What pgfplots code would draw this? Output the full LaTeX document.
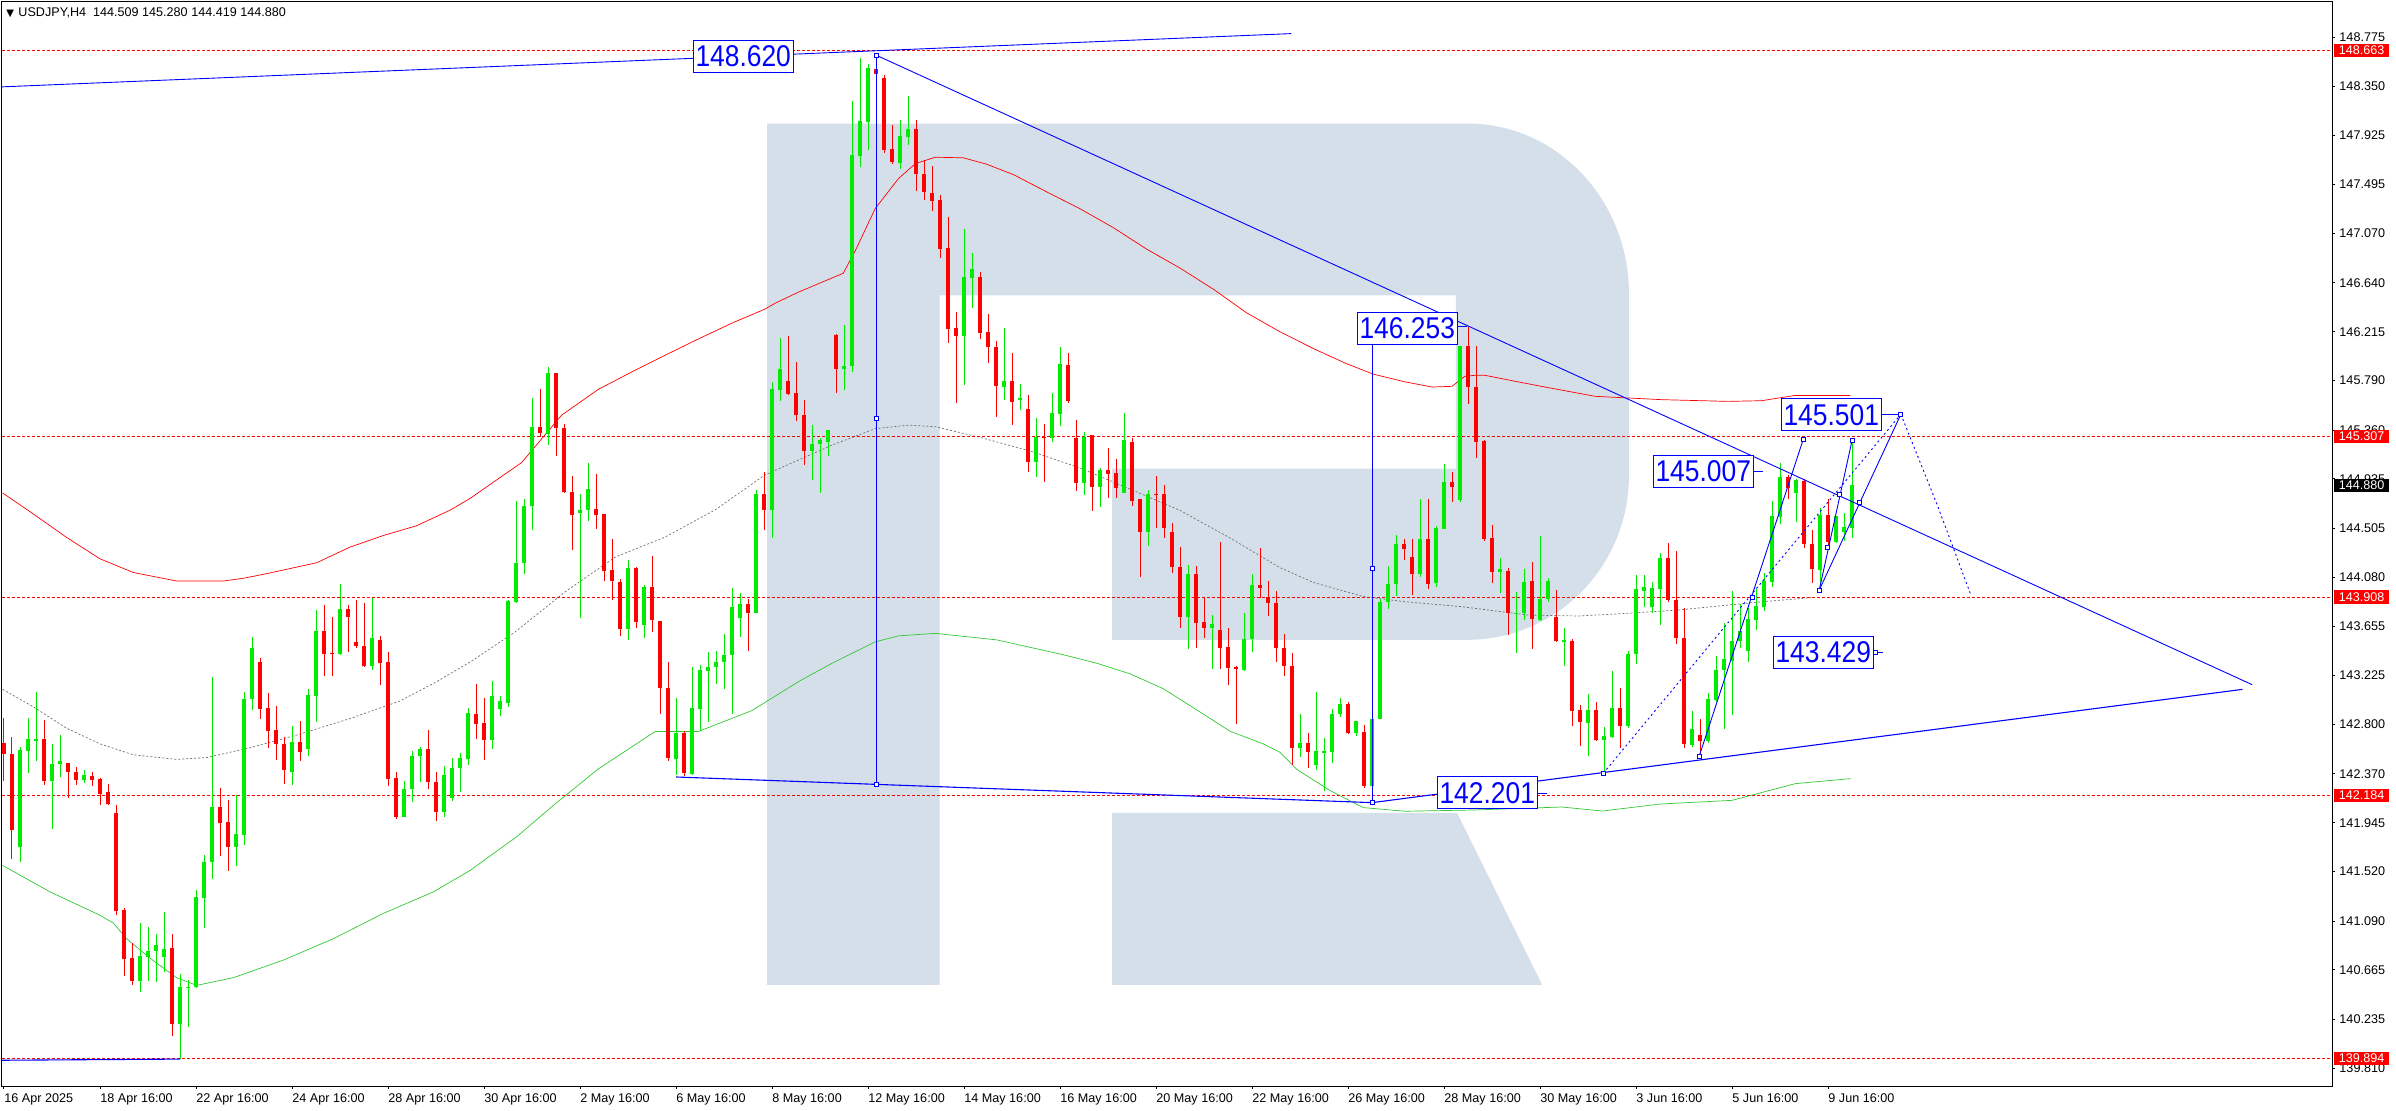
\documentclass[border=0pt]{standalone}
\usepackage{pgfplots}
\pgfplotsset{compat=1.18}
\usepackage{pgfplotstable}
\usepackage{fontspec}
\setmainfont{Liberation Sans}
\newfontfamily\dejavu{DejaVu Sans}

\definecolor{cup}{RGB}{0,235,0}
\definecolor{cdn}{RGB}{255,0,0}
\definecolor{bandlo}{RGB}{50,200,50}
\definecolor{bandmid}{RGB}{110,110,110}
\definecolor{tline}{RGB}{0,0,255}
\definecolor{wmark}{RGB}{213,223,234}

\newcommand{\tickfont}{\fontsize{6.3}{7}\selectfont}
\newcommand{\boxlabel}[1]{\scalebox{0.88}[1]{\fontsize{15}{16}\selectfont #1}}

% USDJPY H4 bars, n = bar index (0 = 16 Apr 16:00)
\pgfplotstableread{
n o h l c
0 142.638 142.858 142.309 142.540
1 142.540 142.692 141.632 141.886
2 141.733 142.604 141.608 142.580
3 142.573 142.858 142.377 142.675
4 142.665 143.082 142.479 142.670
5 142.675 142.841 142.275 142.309
6 142.309 142.631 141.892 142.458
7 142.455 142.705 142.343 142.482
8 142.465 142.465 142.163 142.390
9 142.387 142.428 142.275 142.319
10 142.319 142.401 142.292 142.360
11 142.353 142.384 142.265 142.319
12 142.326 142.333 142.102 142.197
13 142.214 142.282 142.099 142.109
14 142.031 142.099 141.140 141.181
15 141.185 141.201 140.615 140.761
16 140.768 140.903 140.531 140.571
17 140.571 141.073 140.470 140.785
18 140.781 141.039 140.565 140.829
19 140.829 140.978 140.558 140.886
20 140.775 141.168 140.649 140.846
21 140.856 140.981 140.090 140.192
22 140.192 140.626 139.887 140.514
23 140.512 140.578 140.165 140.517
24 140.517 141.361 140.507 141.300
25 141.293 141.666 141.032 141.608
26 141.608 143.214 141.452 142.082
27 142.082 142.248 141.659 141.947
28 141.953 142.143 141.523 141.730
29 141.730 142.187 141.571 141.848
30 141.842 143.078 141.750 143.024
31 143.017 143.563 142.926 143.468
32 143.346 143.380 142.851 142.936
33 142.946 143.075 142.597 142.743
34 142.753 142.960 142.495 142.634
35 142.631 142.692 142.282 142.401
36 142.390 142.787 142.272 142.648
37 142.648 142.834 142.479 142.556
38 142.584 143.105 142.523 143.058
39 143.051 143.796 142.817 143.613
40 143.613 143.840 143.217 143.410
41 143.420 143.732 143.217 143.415
42 143.410 144.023 143.400 143.806
43 143.806 143.840 143.434 143.732
44 143.518 143.878 143.461 143.478
45 143.485 143.857 143.302 143.308
46 143.308 143.898 143.275 143.552
47 143.532 143.573 143.139 143.336
48 143.339 143.434 142.265 142.326
49 142.336 142.390 141.981 141.998
50 141.998 142.306 141.998 142.238
51 142.235 142.570 142.123 142.526
52 142.523 142.607 142.296 142.587
53 142.587 142.753 142.241 142.296
54 142.299 142.390 141.964 142.035
55 142.035 142.438 141.998 142.360
56 142.163 142.509 142.136 142.421
57 142.418 142.553 142.214 142.509
58 142.502 142.946 142.445 142.902
59 142.895 143.150 142.674 142.804
60 142.812 143.033 142.492 142.665
61 142.665 143.180 142.587 143.050
62 142.934 143.050 142.869 143.007
63 142.990 143.886 142.955 143.873
64 143.865 144.740 143.856 144.203
65 144.207 144.761 144.112 144.701
66 144.696 145.640 144.493 145.389
67 145.389 145.718 145.303 145.337
68 145.329 145.909 145.229 145.857
69 145.857 145.857 145.138 145.381
70 145.381 145.411 144.809 144.818
71 144.818 144.956 144.319 144.623
72 144.636 144.800 143.722 144.666
73 144.666 145.077 144.566 144.843
74 144.675 144.978 144.501 144.623
75 144.631 144.631 144.051 144.138
76 144.142 144.415 143.886 144.047
77 144.038 144.068 143.566 143.627
78 143.627 144.233 143.531 144.159
79 144.159 144.168 143.639 143.691
80 143.661 144.016 143.549 143.995
81 143.995 144.267 143.605 143.704
82 143.700 143.700 142.890 143.120
83 143.120 143.345 142.479 142.509
84 142.500 143.029 142.358 142.726
85 142.726 142.739 142.349 142.379
86 142.371 143.302 142.362 142.942
87 142.934 143.315 142.739 143.271
88 143.267 143.432 142.817 143.302
89 143.302 143.440 143.150 143.345
90 143.345 143.583 143.107 143.401
91 143.401 143.986 142.895 143.821
92 143.722 143.943 143.562 143.847
93 143.847 143.895 143.440 143.765
94 143.765 144.835 143.765 144.805
95 144.805 144.991 144.493 144.666
96 144.666 145.779 144.419 145.714
97 145.705 146.160 145.610 145.892
98 145.783 146.177 145.662 145.675
99 145.679 145.952 145.437 145.489
100 145.489 145.619 145.060 145.177
101 145.177 145.402 144.926 145.242
102 145.238 145.294 144.809 145.272
103 145.259 145.359 145.138 145.359
104 146.182 146.195 145.684 145.892
105 145.887 146.277 145.705 145.913
106 145.913 148.217 145.866 147.750
107 147.741 148.594 147.646 148.044
108 148.040 148.542 147.797 148.507
109 148.499 148.620 148.347 148.455
110 148.421 148.447 147.771 147.793
111 147.801 148.014 147.676 147.689
112 147.680 148.053 147.633 147.914
113 147.905 148.261 147.836 147.979
114 147.979 148.053 147.438 147.589
115 147.589 147.711 147.360 147.429
116 147.425 147.654 147.264 147.351
117 147.358 147.402 146.860 146.934
118 146.941 147.211 146.118 146.236
119 146.244 146.384 145.594 146.177
120 146.177 147.104 145.753 146.687
121 146.683 146.897 146.425 146.757
122 146.687 146.735 146.152 146.203
123 146.211 146.366 145.945 146.082
124 146.085 146.137 145.473 145.742
125 145.735 146.244 145.620 145.786
126 145.786 146.034 145.403 145.602
127 145.617 145.757 145.532 145.642
128 145.546 145.668 144.993 145.082
129 145.082 145.462 144.952 145.303
130 145.303 145.410 144.908 145.292
131 145.292 145.683 145.255 145.506
132 145.498 146.085 145.395 145.930
133 145.923 146.026 145.598 145.609
134 145.288 145.443 144.834 144.897
135 144.897 145.340 144.794 145.303
136 145.314 145.314 144.653 144.867
137 144.867 145.034 144.690 145.011
138 145.011 145.207 144.768 144.978
139 144.982 145.104 144.768 144.860
140 144.812 145.506 144.812 145.270
141 145.259 145.288 144.698 144.746
142 144.757 144.757 144.082 144.473
143 144.473 144.838 144.355 144.805
144 144.805 144.963 144.506 144.797
145 144.805 144.879 144.421 144.506
146 144.476 144.554 144.118 144.166
147 144.170 144.347 143.639 143.735
148 143.735 144.189 143.454 144.111
149 144.111 144.181 143.462 143.679
150 143.687 143.897 143.550 143.639
151 143.639 143.753 143.281 143.672
152 143.617 144.388 143.281 143.462
153 143.469 143.639 143.141 143.288
154 143.299 143.307 142.801 143.281
155 143.273 143.772 143.262 143.546
156 143.539 144.111 143.428 144.015
157 144.015 144.332 143.897 143.986
158 143.912 144.045 143.742 143.860
159 143.860 143.963 143.347 143.462
160 143.469 143.583 143.225 143.307
161 143.310 143.425 142.451 142.598
162 142.598 142.893 142.517 142.642
163 142.642 142.727 142.421 142.561
164 142.451 143.078 142.406 142.565
165 142.560 142.679 142.222 142.565
166 142.561 142.938 142.465 142.893
167 142.893 143.034 142.864 142.975
168 142.975 142.997 142.720 142.727
169 142.727 142.834 142.701 142.834
170 142.738 142.797 142.248 142.266
171 142.266 142.864 142.120 142.849
172 142.849 143.890 142.849 143.864
173 143.864 144.177 143.805 144.019
174 144.019 144.451 143.919 144.369
175 144.369 144.410 144.229 144.325
176 144.253 144.410 143.925 144.108
177 144.108 144.761 144.085 144.413
178 144.413 144.761 143.981 144.021
179 144.027 144.529 143.992 144.512
180 144.503 145.066 144.503 144.910
181 144.910 144.997 144.735 144.863
182 144.753 146.088 144.738 146.088
183 146.088 146.253 145.586 145.731
184 145.734 146.088 145.121 145.252
185 145.261 145.275 144.399 144.410
186 144.422 144.532 144.033 144.129
187 144.129 144.248 143.946 144.155
188 144.134 144.164 143.577 143.766
189 143.763 143.954 143.423 143.772
190 143.766 144.155 143.708 144.039
191 144.047 144.210 143.455 143.714
192 143.708 144.442 143.699 143.891
193 143.888 144.074 143.867 144.047
194 143.734 143.972 143.516 143.528
195 143.522 143.635 143.310 143.534
196 143.528 143.545 142.788 142.918
197 142.924 142.968 142.613 142.822
198 142.814 143.063 142.526 142.924
199 142.924 142.994 142.657 142.663
200 142.663 142.779 142.358 142.698
201 142.692 143.267 142.686 142.941
202 142.941 143.118 142.596 142.788
203 142.785 143.441 142.770 143.412
204 143.409 144.097 143.325 143.975
205 143.963 144.097 143.824 143.995
206 143.824 144.039 143.766 143.989
207 143.981 144.291 143.661 144.251
208 144.251 144.375 143.867 143.879
209 143.882 144.312 143.496 143.548
210 143.551 143.815 142.596 142.631
211 142.625 142.915 142.605 142.756
212 142.706 142.843 142.532 142.657
213 142.657 143.069 142.642 143.020
214 143.011 143.394 142.997 143.272
215 143.269 143.685 142.764 143.365
216 143.354 143.960 142.880 143.525
217 143.525 143.850 143.461 143.609
218 143.435 143.809 143.345 143.714
219 143.708 143.975 143.621 143.833
220 143.824 144.120 143.789 144.047
221 144.036 144.741 143.992 144.613
222 144.608 145.072 144.544 144.950
223 144.950 144.968 144.761 144.854
224 144.811 144.936 144.564 144.927
225 144.918 144.936 144.332 144.367
226 144.367 144.492 144.027 144.149
227 144.143 144.680 143.969 144.622
228 144.622 144.759 144.332 144.384
229 144.387 144.613 144.375 144.613
230 144.471 144.642 144.396 144.515
231 144.509 145.280 144.419 144.880
}\candles

\begin{document}
\begin{tikzpicture}
\useasboundingbox (-1pt,-12pt) rectangle (1197pt,543pt);
\begin{axis}[
    at={(0,0)}, anchor=south west,
    width=1165pt, height=542pt, scale only axis,
    xmin=-0.25, xmax=291,
    ymin=139.656, ymax=149.082,
    clip mode=individual,
    axis line style={line width=0.5pt},
    tick align=outside,
    major tick length=1.5pt,
    tick style={black, line width=0.5pt},
    xtick pos=left, ytick pos=right,
    yticklabel pos=right,
    xtick={0,12,...,228},
    xticklabels={16 Apr 2025,18 Apr 16:00,22 Apr 16:00,24 Apr 16:00,28 Apr 16:00,30 Apr 16:00,2 May 16:00,6 May 16:00,8 May 16:00,12 May 16:00,14 May 16:00,16 May 16:00,20 May 16:00,22 May 16:00,26 May 16:00,28 May 16:00,30 May 16:00,3 Jun 16:00,5 Jun 16:00,9 Jun 16:00},
    ytick={139.810,140.235,140.665,141.090,141.520,141.945,142.370,142.800,143.225,143.655,144.080,144.505,144.935,145.360,145.790,146.215,146.640,147.070,147.495,147.925,148.350,148.775},
    yticklabels={139.810,140.235,140.665,141.090,141.520,141.945,142.370,142.800,143.225,143.655,144.080,144.505,144.935,145.360,145.790,146.215,146.640,147.070,147.495,147.925,148.350,148.775},
    xticklabel style={anchor=north west, inner sep=0pt, font=\tickfont, yshift=-2pt},
    yticklabel style={anchor=west, inner sep=0pt, font=\tickfont, xshift=2pt},
]

% watermark
\fill[wmark] (axis cs:95.375,148.025) -- (axis cs:182.95,148.025)
  .. controls (axis cs:194.08,148.025) and (axis cs:203.11,147.363) .. (axis cs:203.11,146.546)
  -- (axis cs:203.11,144.965)
  .. controls (axis cs:203.11,144.176) and (axis cs:194.08,143.536) .. (axis cs:182.95,143.536)
  -- (axis cs:138.5,143.536) -- (axis cs:138.5,145.025) -- (axis cs:181.475,145.025)
  -- (axis cs:181.475,146.531) -- (axis cs:116.94,146.531) -- (axis cs:116.94,140.536)
  -- (axis cs:95.375,140.536) -- cycle;
\fill[wmark] (axis cs:138.5,142.031) -- (axis cs:181.625,142.031) -- (axis cs:192.26,140.536) -- (axis cs:138.5,140.536) -- cycle;

% envelope lines
\addplot[red, line width=0.35pt] coordinates {(-0.17,144.813) (3.67,144.630) (7.83,144.426) (12,144.240) (16.17,144.121) (21.58,144.047) (27.42,144.047) (29.92,144.071) (32.83,144.111) (39.08,144.206) (43.25,144.342) (47.42,144.443) (51.58,144.528) (55.75,144.663) (58.25,144.765) (64.7,145.077) (69.7,145.489) (74.3,145.714) (78.5,145.866) (82.6,146.009) (86.8,146.152) (91.0,146.290) (95.1,146.411) (96.4,146.463) (99.3,146.559) (104.9,146.723) (106.4,146.918) (108.9,147.286) (111.8,147.546) (113.9,147.676) (116.4,147.732) (119.9,147.727) (122.8,147.672) (126.2,147.580) (130.3,147.432) (134.5,147.284) (138.7,147.118) (142.8,146.934) (147.0,146.768) (151.2,146.583) (155.3,146.380) (159.5,146.214) (163.7,146.067) (167.8,145.937) (171.2,145.845) (175.1,145.779) (178.5,145.734) (181.0,145.740) (182.6,145.827) (183.9,145.836) (185.1,145.836) (188.5,145.789) (192.6,145.734) (198.9,145.653) (207.2,145.624) (215.5,145.609) (219.7,145.615) (223.9,145.661) (230.8,145.661)};
\addplot[bandmid, line width=0.35pt, dash pattern=on 1pt off 1pt] coordinates {(-0.17,143.105) (3.67,142.953) (7.83,142.767) (12,142.631) (16.17,142.536) (21.58,142.496) (25.33,142.512) (30.75,142.597) (37,142.716) (43.25,142.851) (49.5,143.004) (53.67,143.156) (58.25,143.342) (63.9,143.605) (70.1,143.951) (76.4,144.255) (82.6,144.428) (88.9,144.666) (95.1,144.969) (99.3,145.099) (103.5,145.229) (108.9,145.372) (113.0,145.402) (116.4,145.389) (122,145.296) (128.25,145.178) (134.5,145.030) (140.75,144.846) (147,144.661) (153.25,144.421) (159.5,144.163) (163.7,144.034) (169.9,143.912) (175.1,143.867) (182.2,143.824) (190.5,143.751) (196.8,143.743) (203.0,143.766) (209.3,143.795) (215.5,143.838) (219.7,143.867) (225.9,143.902)};
\addplot[bandlo, line width=0.35pt] coordinates {(-0.17,141.574) (5.75,141.344) (12,141.141) (13.67,141.073) (15.33,140.937) (18.25,140.768) (21.58,140.598) (24.08,140.531) (28.67,140.598) (34.92,140.751) (41.17,140.937) (47.42,141.157) (53.67,141.344) (58.25,141.530) (64.1,141.824) (68.7,142.098) (74.3,142.414) (81.4,142.739) (86.8,142.739) (93.5,142.921) (99.3,143.172) (103.5,143.332) (108.9,143.518) (111.8,143.570) (116.4,143.592) (124.1,143.535) (132.4,143.406) (136.6,143.332) (140.75,143.240) (144.9,143.111) (149.1,142.926) (153.25,142.741) (157.4,142.631) (159.5,142.557) (161.6,142.409) (165.75,142.225) (169.9,142.077) (175.1,142.045) (183.7,142.056) (194.7,142.082) (199.8,142.047) (207,142.108) (216,142.140) (223.9,142.285) (230.8,142.329)};

% horizontal levels
\addplot[cdn, line width=0.45pt, dash pattern=on 1.5pt off 1pt] coordinates {(-0.25,148.663) (291,148.663)};
\addplot[cdn, line width=0.45pt, dash pattern=on 1.5pt off 1pt] coordinates {(-0.25,145.307) (291,145.307)};
\addplot[cdn, line width=0.45pt, dash pattern=on 1.5pt off 1pt] coordinates {(-0.25,143.908) (291,143.908)};
\addplot[cdn, line width=0.45pt, dash pattern=on 1.5pt off 1pt] coordinates {(-0.25,142.184) (291,142.184)};
\addplot[cdn, line width=0.45pt, dash pattern=on 1.5pt off 1pt] coordinates {(-0.25,139.894) (291,139.894)};

% candles: wicks then bodies
\addplot[draw=none, mark=none, error bars/.cd, y dir=both, y explicit, error mark=none,
    error bar style={cup, line width=0.5pt}]
  table[x=n, y expr={\thisrow{c}>=\thisrow{o} ? 0.5*(\thisrow{h}+\thisrow{l}) : nan},
        y error expr={0.5*(\thisrow{h}-\thisrow{l})}] {\candles};
\addplot[draw=none, mark=none, error bars/.cd, y dir=both, y explicit, error mark=none,
    error bar style={cdn, line width=0.5pt}]
  table[x=n, y expr={\thisrow{c}<\thisrow{o} ? 0.5*(\thisrow{h}+\thisrow{l}) : nan},
        y error expr={0.5*(\thisrow{h}-\thisrow{l})}] {\candles};
\addplot[draw=none, mark=none, error bars/.cd, y dir=both, y explicit, error mark=none,
    error bar style={cup, line width=2.4pt}]
  table[x=n, y expr={\thisrow{c}>=\thisrow{o} ? 0.5*(\thisrow{o}+\thisrow{c}) : nan},
        y error expr={max(0.5*abs(\thisrow{c}-\thisrow{o}),0.004)}] {\candles};
\addplot[draw=none, mark=none, error bars/.cd, y dir=both, y explicit, error mark=none,
    error bar style={cdn, line width=2.4pt}]
  table[x=n, y expr={\thisrow{c}<\thisrow{o} ? 0.5*(\thisrow{o}+\thisrow{c}) : nan},
        y error expr={max(0.5*abs(\thisrow{c}-\thisrow{o}),0.004)}] {\candles};

% trend lines
\addplot[tline, line width=0.45pt] coordinates {(-0.25,148.344) (160.9,148.807)};
\addplot[tline, line width=0.45pt] coordinates {(109,148.620) (281,143.146)};
\addplot[tline, line width=0.55pt] coordinates {(84,142.343) (171,142.120)};
\addplot[tline, line width=0.55pt] coordinates {(171,142.120) (279.8,143.105)};
\addplot[tline, line width=0.55pt] coordinates {(-0.25,139.880) (22,139.890)};
\addplot[tline, line width=0.45pt] coordinates {(109,148.620) (109,142.278)};
\addplot[tline, line width=0.45pt] coordinates {(171,146.108) (171,142.120)};
\addplot[tline, line width=0.45pt] coordinates {(211.9,142.525) (224.9,145.279)};
\addplot[tline, line width=0.45pt] coordinates {(226.9,143.969) (231,145.270)};
\addplot[tline, line width=0.45pt] coordinates {(226.9,143.969) (237.1,145.497)};
\addplot[tline, line width=0.45pt, dash pattern=on 1pt off 1.5pt] coordinates {(199.9,142.375) (237.1,145.497)};
\addplot[tline, line width=0.45pt, dash pattern=on 1pt off 1.5pt] coordinates {(237.1,145.497) (241.6,144.717) (245.9,143.917)};
% label stubs
\addplot[tline, line width=0.45pt] coordinates {(181.6,146.258) (182.9,146.258)};
\addplot[tline, line width=0.45pt] coordinates {(234.7,145.497) (237.1,145.497)};
\addplot[tline, line width=0.45pt] coordinates {(218.7,145.001) (219.9,145.001)};
\addplot[tline, line width=0.45pt] coordinates {(233.7,143.430) (234.9,143.430)};
\addplot[tline, line width=0.45pt] coordinates {(191.6,142.204) (192.9,142.204)};

% anchor squares
\addplot[only marks, tline, mark=square*, mark size=1pt, mark options={fill=white, line width=0.45pt}]
  coordinates {(109,148.620) (109,145.461) (109,142.278) (171,144.159) (171,142.120)
  (211.9,142.525) (218.5,143.905) (224.9,145.279) (226.9,143.969) (227.9,144.340)
  (229.4,144.804) (231,145.270) (231.9,144.731) (237.1,145.497) (199.9,142.375) (233.9,143.430)};

% text labels
\node[draw=tline, fill=white, line width=0.5pt, text=tline, inner sep=0pt, minimum width=50pt, minimum height=16pt] at (axis cs:92.4,148.612) {\boxlabel{148.620}};
\node[draw=tline, fill=white, line width=0.5pt, text=tline, inner sep=0pt, minimum width=50pt, minimum height=16pt] at (axis cs:175.4,146.247) {\boxlabel{146.253}};
\node[draw=tline, fill=white, line width=0.5pt, text=tline, inner sep=0pt, minimum width=50pt, minimum height=16pt] at (axis cs:228.4,145.493) {\boxlabel{145.501}};
\node[draw=tline, fill=white, line width=0.5pt, text=tline, inner sep=0pt, minimum width=50pt, minimum height=16pt] at (axis cs:212.4,145.001) {\boxlabel{145.007}};
\node[draw=tline, fill=white, line width=0.5pt, text=tline, inner sep=0pt, minimum width=50pt, minimum height=16pt] at (axis cs:227.4,143.425) {\boxlabel{143.429}};
\node[draw=tline, fill=white, line width=0.5pt, text=tline, inner sep=0pt, minimum width=50pt, minimum height=16pt] at (axis cs:185.4,142.204) {\boxlabel{142.201}};

% price tags on the right scale
\node[anchor=west, fill=cdn, text=white, font=\tickfont, inner xsep=2.2pt, inner ysep=0pt, minimum height=6.6pt, xshift=1pt] at (axis cs:291,148.663) {148.663};
\node[anchor=west, fill=cdn, text=white, font=\tickfont, inner xsep=2.2pt, inner ysep=0pt, minimum height=6.6pt, xshift=1pt] at (axis cs:291,145.307) {145.307};
\node[anchor=west, fill=cdn, text=white, font=\tickfont, inner xsep=2.2pt, inner ysep=0pt, minimum height=6.6pt, xshift=1pt] at (axis cs:291,143.908) {143.908};
\node[anchor=west, fill=cdn, text=white, font=\tickfont, inner xsep=2.2pt, inner ysep=0pt, minimum height=6.6pt, xshift=1pt] at (axis cs:291,142.184) {142.184};
\node[anchor=west, fill=cdn, text=white, font=\tickfont, inner xsep=2.2pt, inner ysep=0pt, minimum height=6.6pt, xshift=1pt] at (axis cs:291,139.894) {139.894};
\node[anchor=west, fill=black, text=white, font=\tickfont, inner xsep=2.2pt, inner ysep=0pt, minimum height=6.6pt, xshift=1pt] at (axis cs:291,144.880) {144.880};

% header
\node[anchor=west, inner sep=0pt, font=\tickfont, xshift=2pt, yshift=-5.25pt] at (rel axis cs:0,1) {{\dejavu\fontsize{5}{6}\selectfont ▼}\hspace{2.2pt}USDJPY,H4\ \ 144.509 145.280 144.419 144.880};
\end{axis}
\end{tikzpicture}
\end{document}
